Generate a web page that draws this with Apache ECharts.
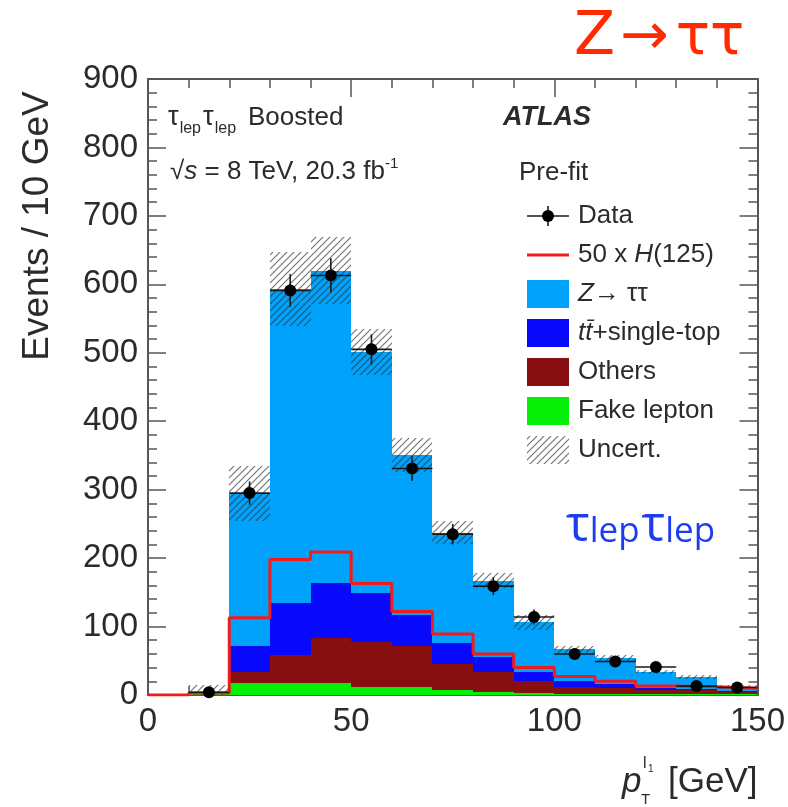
<!DOCTYPE html>
<html>
<head>
<meta charset="utf-8">
<script src="https://cdn.jsdelivr.net/npm/echarts@6/dist/echarts.min.js"></script>
<style>
  html, body { margin: 0; padding: 0; background: #ffffff; }
  #chart { width: 788px; height: 807px; }
</style>
</head>
<body>
<div id="chart"></div>
<script>
// Bin edges of the leading-lepton pT histogram [GeV]
const binEdges = [0, 10, 20, 30, 40, 50, 60, 70, 80, 90, 100, 110, 120, 130, 140, 150];

// Expected events per bin, per process (stacked bottom to top)
const fakeLepton = [0, 1, 17, 18, 18, 12, 11, 8, 4, 3, 2, 2, 1, 1, 1];
const othersBkg  = [0, 1, 17, 41, 65, 66, 61, 37, 30, 18, 9, 8, 6, 6, 3];
const ttbarTop   = [0, 0, 37, 75, 81, 71, 45, 31, 22, 13, 10, 6, 3, 2, 2];
const zTauTau    = [0, 3, 223, 459, 456, 352, 234, 161, 111, 72, 46, 38, 23, 17, 6];

// Total background uncertainty (absolute, symmetric)
const bkgUncert  = [0, 9, 40, 54, 49, 34, 25, 17, 11, 11, 5, 4, 3, 3, 2];

// Signal, scaled by 50
const higgs50    = [0, 3, 113, 198, 209, 163, 122, 89, 60, 40, 27, 20, 13, 12, 10];

// Observed data and its statistical error
const dataCounts = [null, 4, 295, 591, 613, 505, 331, 235, 159, 114, 60, 49, 41, 13, 11];
const dataErrors = [0, 2, 17, 24, 25, 22, 18, 15, 13, 11, 8, 7, 6, 4, 3];

// Axis ticks
const yTicks = { min: 0, max: 900, step: 100 };
const xTicks = { min: 0, max: 150, step: 50 };

const COLORS = {
  fake: '#06ef06',
  others: '#870f0f',
  ttbar: '#0808fa',
  ztt: '#00a2fb',
  signal: '#f01c1c',
  text: '#2b2b2b',
  frame: '#555555'
};

const SANS = '"Liberation Sans", Arial, Helvetica, sans-serif';

// Diagonal hatch tile used for the uncertainty band
function hatchTile() {
  const s = 7;
  const c = document.createElement('canvas');
  c.width = s; c.height = s;
  const g = c.getContext('2d');
  g.strokeStyle = 'rgba(45,45,45,0.65)';
  g.lineWidth = 1.2;
  g.beginPath();
  g.moveTo(-1, s + 1); g.lineTo(s + 1, -1);
  g.moveTo(-1, 1); g.lineTo(1, -1);
  g.moveTo(s - 1, s + 1); g.lineTo(s + 1, s - 1);
  g.stroke();
  return c;
}
const hatchPattern = { type: 'pattern', image: hatchTile(), repeat: 'repeat' };

// Build [lo, hi, base, top] rows for a stacked component
function stackRows(layers, idx) {
  const rows = [];
  for (let i = 0; i < binEdges.length - 1; i++) {
    let base = 0;
    for (let k = 0; k < idx; k++) base += layers[k][i];
    rows.push([binEdges[i], binEdges[i + 1], base, base + layers[idx][i]]);
  }
  return rows;
}
const layers = [fakeLepton, othersBkg, ttbarTop, zTauTau];

function rectRenderer(fill) {
  return function (params, api) {
    const p0 = api.coord([api.value(0), api.value(3)]);
    const p1 = api.coord([api.value(1), api.value(2)]);
    const x0 = Math.round(p0[0]), x1 = Math.round(p1[0]);
    const y0 = Math.round(p0[1]), y1 = Math.round(p1[1]);
    if (y1 - y0 <= 0) return null;
    return {
      type: 'rect',
      shape: { x: x0, y: y0, width: x1 - x0, height: y1 - y0 },
      style: { fill: fill }
    };
  };
}

function stackSeries(name, idx, fill) {
  return {
    name: name,
    type: 'custom',
    xAxisIndex: 0, yAxisIndex: 0,
    renderItem: rectRenderer(fill),
    encode: { x: [0, 1], y: [2, 3] },
    data: stackRows(layers, idx),
    clip: true,
    silent: true
  };
}

// Uncertainty band around the total expectation
const bandRows = [];
for (let i = 0; i < binEdges.length - 1; i++) {
  let total = 0;
  layers.forEach(l => total += l[i]);
  if (bkgUncert[i] > 0) {
    bandRows.push([binEdges[i], binEdges[i + 1], Math.max(0, total - bkgUncert[i]), total + bkgUncert[i]]);
  }
}

// Signal as a step outline
const signalSteps = [];
for (let i = 0; i < binEdges.length - 1; i++) signalSteps.push([binEdges[i], higgs50[i]]);
signalSteps.push([binEdges[binEdges.length - 1], higgs50[higgs50.length - 1]]);

// Data rows [lo, hi, value, error]
const dataRows = [];
for (let i = 0; i < binEdges.length - 1; i++) {
  if (dataCounts[i] !== null) dataRows.push([binEdges[i], binEdges[i + 1], dataCounts[i], dataErrors[i]]);
}

function dataRenderer(params, api) {
  const lo = api.value(0), hi = api.value(1), v = api.value(2), e = api.value(3);
  const mid = (lo + hi) / 2;
  const pl = api.coord([lo, v]);
  const ph = api.coord([hi, v]);
  const pc = api.coord([mid, v]);
  const pt = api.coord([mid, v + e]);
  const pb = api.coord([mid, Math.max(0, v - e)]);
  const lineStyle = { stroke: '#1a1a1a', lineWidth: 1.6 };
  return {
    type: 'group',
    children: [
      { type: 'line', shape: { x1: pl[0], y1: pl[1], x2: ph[0], y2: ph[1] }, style: lineStyle },
      { type: 'line', shape: { x1: pt[0], y1: pt[1], x2: pb[0], y2: pb[1] }, style: lineStyle },
      { type: 'circle', shape: { cx: pc[0], cy: pc[1], r: 6 }, style: { fill: '#000000' } }
    ]
  };
}

// ---------- text helpers ----------
const measureCtx = document.createElement('canvas').getContext('2d');
// Places a run of text pieces along a common baseline
function textRun(x, baseline, pieces, opts) {
  opts = opts || {};
  const els = [];
  let cx = x;
  pieces.forEach(p => {
    const family = p.family || opts.family || SANS;
    const size = p.size || opts.size || 26;
    const font = (p.italic ? 'italic ' : '') + (p.bold ? 'bold ' : '') + size + 'px ' + family;
    measureCtx.font = font;
    const w = measureCtx.measureText(p.text).width;
    const mid = p.mid !== undefined ? p.mid : (opts.mid !== undefined ? opts.mid : 0.3465);
    cx += (p.dx || 0);
    els.push({
      type: 'text',
      x: cx,
      y: baseline + (p.dy || 0) - mid * size,
      silent: true,
      z: 100,
      style: {
        text: p.text,
        font: font,
        fill: p.color || opts.color || COLORS.text,
        align: 'left',
        verticalAlign: 'middle'
      }
    });
    cx += w;
  });
  return els;
}

// ---------- legend ----------
const legendX = 527, legendW = 42, legendH = 28, legendTextX = 578;
const legendRows = [216, 255, 294, 333, 372, 411, 450];
const legendEls = [];
function legendBox(row, fill) {
  legendEls.push({
    type: 'rect', silent: true, z: 100,
    shape: { x: legendX, y: legendRows[row] - legendH / 2, width: legendW, height: legendH },
    style: { fill: fill }
  });
}
// Data marker
legendEls.push({ type: 'line', silent: true, z: 100,
  shape: { x1: legendX, y1: legendRows[0], x2: legendX + legendW, y2: legendRows[0] },
  style: { stroke: '#1a1a1a', lineWidth: 1.6 } });
legendEls.push({ type: 'line', silent: true, z: 100,
  shape: { x1: legendX + legendW / 2, y1: legendRows[0] - 10, x2: legendX + legendW / 2, y2: legendRows[0] + 10 },
  style: { stroke: '#1a1a1a', lineWidth: 1.6 } });
legendEls.push({ type: 'circle', silent: true, z: 100,
  shape: { cx: legendX + legendW / 2, cy: legendRows[0], r: 6 }, style: { fill: '#000' } });
// Signal line
legendEls.push({ type: 'line', silent: true, z: 100,
  shape: { x1: legendX, y1: legendRows[1], x2: legendX + legendW, y2: legendRows[1] },
  style: { stroke: COLORS.signal, lineWidth: 3 } });
legendBox(2, COLORS.ztt);
legendBox(3, COLORS.ttbar);
legendBox(4, COLORS.others);
legendBox(5, COLORS.fake);
legendBox(6, hatchPattern);

const lb = 9; // baseline offset below row centre
const legendTexts = [].concat(
  textRun(legendTextX, legendRows[0] + lb, [{ text: 'Data' }]),
  textRun(legendTextX, legendRows[1] + lb, [{ text: '50 x ' }, { text: 'H', italic: true }, { text: '(125)' }]),
  textRun(legendTextX, legendRows[2] + lb, [{ text: 'Z', italic: true }, { text: '→ ττ' }]),
  textRun(legendTextX, legendRows[3] + lb, [{ text: 'tt\u0304', italic: true }, { text: '+single-top' }]),
  textRun(legendTextX, legendRows[4] + lb, [{ text: 'Others' }]),
  textRun(legendTextX, legendRows[5] + lb, [{ text: 'Fake lepton' }]),
  textRun(legendTextX, legendRows[6] + lb, [{ text: 'Uncert.' }])
);

// ---------- annotations ----------
const HEAD = '"Open Sans", "DejaVu Sans", sans-serif';
const TITLE_RED = '#ff2a00';
const TITLE_BLUE = '#1c3cf2';
const annot = [].concat(
  textRun(168, 127, [
    { text: 'τ', size: 27 }, { text: 'lep', size: 16, dy: 7, dx: 1 },
    { text: 'τ', size: 27, dx: 2 }, { text: 'lep', size: 16, dy: 7, dx: 1 }
  ]),
  textRun(248, 127, [{ text: 'Boosted', size: 26 }]),
  textRun(170, 181, [
    { text: '√', size: 26 }, { text: 's', size: 26, italic: true },
    { text: ' = 8 TeV, 20.3 fb', size: 26 },
    { text: '-1', size: 15, dy: -12 }
  ]),
  textRun(503, 127, [{ text: 'ATLAS', size: 27, bold: true, italic: true }]),
  textRun(519, 182, [{ text: 'Pre-fit', size: 26 }]),
  // x-axis title
  textRun(622, 794, [{ text: 'p', size: 35, italic: true }]),
  textRun(641, 805, [{ text: 'T', size: 15 }]),
  textRun(643, 769, [{ text: 'l', size: 16 }]),
  textRun(648, 773, [{ text: '1', size: 10 }]),
  textRun(668, 794, [{ text: '[GeV]', size: 35 }]),
  // channel headings
  textRun(574, 59, [
    { text: 'Z', size: 60 },
    { text: '→', size: 58, dx: 5 },
    { text: 'ττ', size: 57, dx: 7 }
  ], { color: TITLE_RED, family: '"DejaVu Sans", sans-serif', mid: 0.346 }),
  textRun(566, 546, [
    { text: 'τ', size: 50, color: TITLE_BLUE }, { text: 'lep', size: 35, color: TITLE_BLUE },
    { text: 'τ', size: 50, color: TITLE_BLUE, dx: 2 }, { text: 'lep', size: 35, color: TITLE_BLUE }
  ], { family: HEAD, mid: 0.388 })
);

const yTitle = {
  type: 'text', silent: true, z: 100,
  x: 38, y: 226, rotation: Math.PI / 2,
  style: {
    text: 'Events / 10 GeV',
    font: '37px ' + SANS,
    fill: COLORS.text,
    align: 'center',
    verticalAlign: 'middle'
  }
};

// ---------- axes ----------
const tickStyle = { color: COLORS.frame, width: 1.5 };
function axisCommon(extra) {
  return Object.assign({
    type: 'value',
    axisLine: { show: true, onZero: false, lineStyle: { color: COLORS.frame, width: 2 } },
    axisTick: { show: true, inside: true, length: 18, lineStyle: tickStyle },
    minorTick: { show: true, splitNumber: 5, length: 9, lineStyle: tickStyle },
    splitLine: { show: false },
    minorSplitLine: { show: false }
  }, extra);
}

const chart = echarts.init(document.getElementById('chart'), null, { renderer: 'canvas' });
chart.setOption({
  animation: false,
  backgroundColor: '#ffffff',
  grid: { left: 148, top: 79, width: 611, height: 616, containLabel: false },
  xAxis: [
    axisCommon({
      min: xTicks.min, max: xTicks.max, interval: xTicks.step, position: 'bottom',
      axisLabel: { show: true, fontSize: 33, fontFamily: SANS, color: COLORS.text, margin: 10 }
    }),
    axisCommon({
      min: xTicks.min, max: xTicks.max, interval: xTicks.step, position: 'top',
      axisLabel: { show: false }
    })
  ],
  yAxis: [
    axisCommon({
      min: yTicks.min, max: yTicks.max, interval: yTicks.step, position: 'left',
      axisLabel: { show: true, fontSize: 33, fontFamily: SANS, color: COLORS.text, margin: 10 }
    }),
    axisCommon({
      min: yTicks.min, max: yTicks.max, interval: yTicks.step, position: 'right',
      axisLabel: { show: false }
    })
  ],
  series: [
    stackSeries('Fake lepton', 0, COLORS.fake),
    stackSeries('Others', 1, COLORS.others),
    stackSeries('tt+single-top', 2, COLORS.ttbar),
    stackSeries('Z→ττ', 3, COLORS.ztt),
    {
      name: 'Uncert.',
      type: 'custom',
      renderItem: rectRenderer(hatchPattern),
      encode: { x: [0, 1], y: [2, 3] },
      data: bandRows,
      clip: true,
      silent: true
    },
    {
      name: '50 x H(125)',
      type: 'line',
      step: 'end',
      data: signalSteps,
      symbol: 'none',
      lineStyle: { color: COLORS.signal, width: 3 },
      clip: true,
      silent: true
    },
    {
      name: 'Data',
      type: 'custom',
      renderItem: dataRenderer,
      encode: { x: [0, 1], y: 2 },
      data: dataRows,
      clip: false,
      silent: true,
      z: 5
    }
  ],
  graphic: [].concat(legendEls, legendTexts, annot, [yTitle])
});
</script>
</body>
</html>
